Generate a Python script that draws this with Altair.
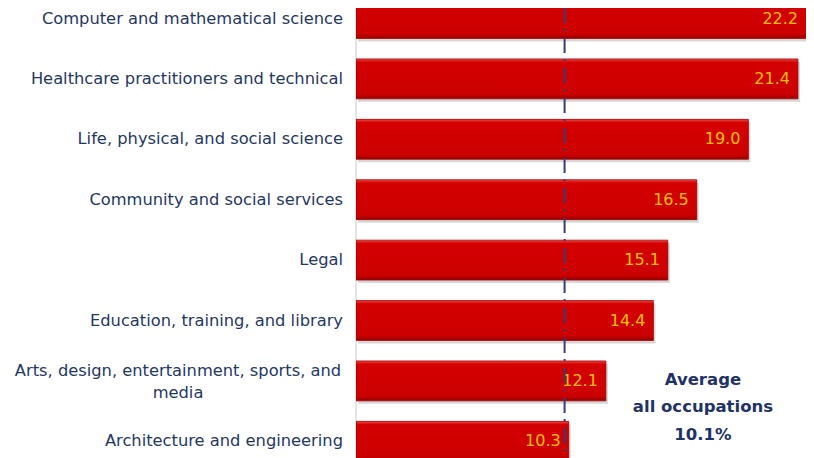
import altair as alt
import pandas as pd

categories = [
    "Computer and mathematical science",
    "Healthcare practitioners and technical",
    "Life, physical, and social science",
    "Community and social services",
    "Legal",
    "Education, training, and library",
    "Arts, design, entertainment, sports, and\nmedia",
    "Architecture and engineering",
]
values = [22.2, 21.4, 19.0, 16.5, 15.1, 14.4, 12.1, 10.3]
average = 10.1
average_text = ["Average", "all occupations", "10.1%"]
average_text_pos = 16.8
x_max = 21.79

df = pd.DataFrame({"cat": categories, "value": values})
df["multi"] = df["cat"].str.contains("\n")
df["zero"] = 0.0

NAVY = "#1f3864"

y_enc = alt.Y(
    "cat:N",
    sort=categories,
    axis=None,
    scale=alt.Scale(range=[-19.7, 463.5], paddingInner=0.34, paddingOuter=0.17),
)
x_scale = alt.Scale(domain=[0, x_max], nice=False, zero=True)

base = alt.Chart(df)

axis_df = pd.DataFrame({"x": [0.0]})
axis_line = alt.Chart(axis_df).mark_rule(color="#c8c8c8", strokeWidth=1).encode(
    x=alt.X("x:Q", scale=x_scale, axis=None)
)

shadow = base.mark_bar(color="#9a9a9a", opacity=0.4, xOffset=2, yOffset=3, clip=True).encode(
    x=alt.X("value:Q", scale=x_scale, axis=None),
    y=y_enc,
)

bars = base.mark_bar(
    clip=True,
    stroke="#a00000",
    strokeWidth=0.8,
    color=alt.Gradient(
        gradient="linear",
        x1=0, y1=0, x2=0, y2=1,
        stops=[
            alt.GradientStop(offset=0, color="#ee4a4a"),
            alt.GradientStop(offset=0.08, color="#d40000"),
            alt.GradientStop(offset=0.88, color="#cc0000"),
            alt.GradientStop(offset=1, color="#960000"),
        ],
    ),
).encode(
    x=alt.X("value:Q", scale=x_scale, axis=None),
    y=y_enc,
)

values_text = base.transform_calculate(
    xt=f"min(datum.value, {x_max})"
).mark_text(
    align="right", baseline="middle", dx=-8, color="#ffc000",
    font="DejaVu Sans", fontSize=16,
).encode(
    x=alt.X("xt:Q", scale=x_scale),
    y=y_enc,
    text=alt.Text("value:Q", format=".1f"),
)

avg_df = pd.DataFrame({"avg": [average]})
avg_rule = alt.Chart(avg_df).mark_rule(color="#333f75", strokeWidth=2, strokeDash=[15, 6, 2, 7]).encode(
    x=alt.X("avg:Q", scale=x_scale)
)

labels = base.transform_filter("!datum.multi").mark_text(
    align="right", baseline="middle", dx=-13, color=NAVY,
    font="DejaVu Sans", fontSize=16.3,
).encode(
    x=alt.X("zero:Q", scale=x_scale),
    y=y_enc,
    text="cat:N",
)

labels_multi = base.transform_filter("datum.multi").mark_text(
    align="center", baseline="middle", dx=-178, dy=-10, color=NAVY,
    font="DejaVu Sans", fontSize=16.3, lineBreak="\n", lineHeight=22,
).encode(
    x=alt.X("zero:Q", scale=x_scale),
    y=y_enc,
    text="cat:N",
)

avg_txt_df = pd.DataFrame({"cat": [categories[6]], "t": ["\n".join(average_text)], "x": [average_text_pos]})
avg_label = alt.Chart(avg_txt_df).mark_text(
    align="center", baseline="middle", dy=-1, color="#1f3366",
    font="DejaVu Sans", fontSize=16.5, fontWeight="bold", lineBreak="\n", lineHeight=27.5,
).encode(
    x=alt.X("x:Q", scale=x_scale),
    y=y_enc,
    text="t:N",
)

chart = alt.layer(
    axis_line, shadow, bars, values_text, avg_rule, labels, labels_multi, avg_label
).properties(
    width=450,
    height=450,
    autosize=alt.AutoSizeParams(type="none"),
    padding={"left": 348, "top": 0, "right": 0, "bottom": 0},
).configure_view(stroke=None)

chart.save("out.html", embed_options={"renderer": "svg", "actions": False})
